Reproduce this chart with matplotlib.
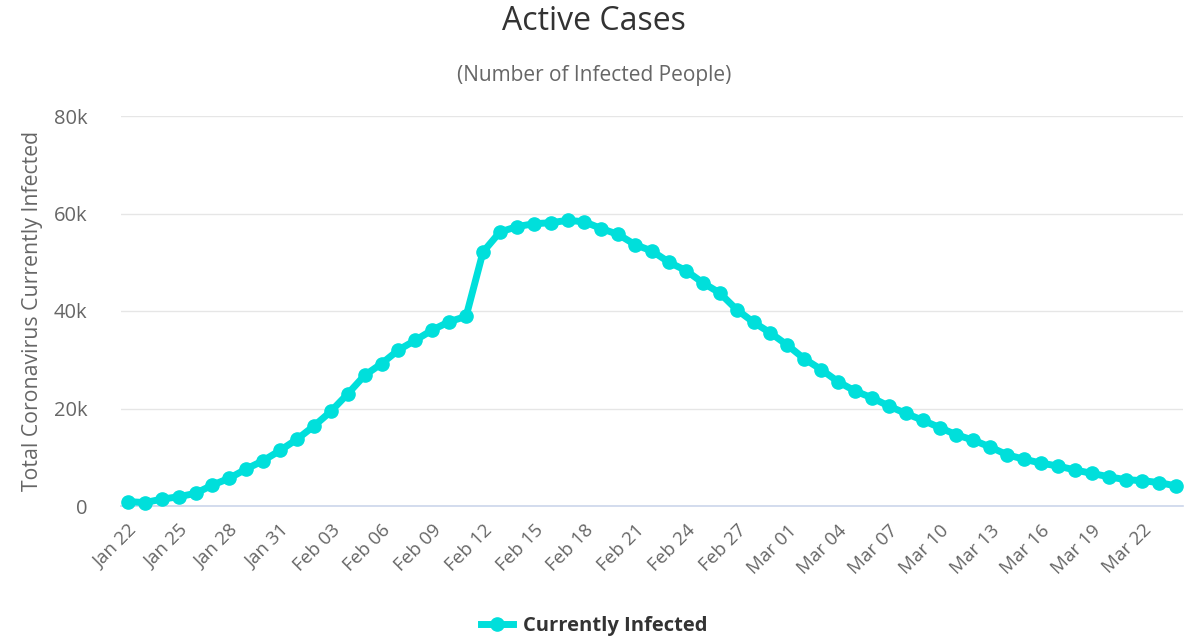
import matplotlib
matplotlib.use("Agg")
import matplotlib.pyplot as plt
import numpy as np
import datetime as dt

start_date = "2020-01-22"
active_k = [0.9, 0.7, 1.4, 1.9, 2.6, 4.3, 5.7, 7.6, 9.3, 11.4,
            13.7, 16.4, 19.4, 23.0, 26.8, 29.2, 32.0, 34.0, 36.1, 37.8,
            38.9, 52.1, 56.2, 57.3, 57.9, 58.1, 58.6, 58.3, 56.9, 55.7,
            53.6, 52.3, 50.0, 48.3, 45.8, 43.7, 40.3, 37.7, 35.5, 33.0,
            30.2, 28.0, 25.5, 23.6, 22.2, 20.5, 19.0, 17.6, 16.1, 14.6,
            13.5, 12.1, 10.5, 9.6, 8.8, 8.2, 7.4, 6.7, 6.0, 5.4,
            5.2, 4.8, 4.1]
active = [v * 1000 for v in active_k]
yticks = [0, 20000, 40000, 60000, 80000]
ytick_labels = ["0", "20k", "40k", "60k", "80k"]
title = "Active Cases"
subtitle = "(Number of Infected People)"
ylabel = "Total Coronavirus Currently Infected"
series_name = "Currently Infected"

d0 = dt.date.fromisoformat(start_date)
dates = [d0 + dt.timedelta(days=i) for i in range(len(active))]
labels = [d.strftime("%b %d") for d in dates]
x = np.arange(len(active))

plt.rcParams['font.family'] = ['Open Sans', 'DejaVu Sans']

fig = plt.figure(figsize=(11.88, 6.39), dpi=100)
ax = fig.add_axes([121/1188, 133/639, (1183-121)/1188, (506-116)/639])

color = '#00dfdb'
ax.plot(x, active, color=color, lw=5, marker='o', ms=9.5, zorder=3,
        label=series_name, clip_on=False)

ax.set_ylim(0, 80000)
ax.set_xlim(-0.41, 62.4)
ax.set_yticks(yticks)
ax.set_yticklabels(ytick_labels)
ax.grid(axis='y', color='#e6e6e6', lw=1)
ax.set_axisbelow(True)
for s in ['top', 'right', 'left']:
    ax.spines[s].set_visible(False)
ax.spines['bottom'].set_color('#ccd6eb')
ax.spines['bottom'].set_linewidth(1.2)

tick_idx = x[::3]
ax.set_xticks(tick_idx)
ax.set_xticklabels([labels[i] for i in tick_idx], rotation=45, ha='right',
                   rotation_mode='anchor', fontsize=13.5, color='#666666')
ax.tick_params(axis='x', length=0, pad=11)
ax.tick_params(axis='y', length=0, pad=24, labelsize=14.5, labelcolor='#666666')

ax.set_ylabel(ylabel, fontsize=15.3, color='#666666', labelpad=8)

fig.text(0.5, 1 - 22/639, title, ha='center', va='center', fontsize=23, color='#333333')
fig.text(0.5, 1 - 75/639, subtitle, ha='center', va='center', fontsize=15, color='#666666')

leg = fig.legend(loc='center', bbox_to_anchor=(0.5, 1 - 626/639), frameon=False,
                 prop={'weight': 'bold', 'size': 14.5}, handlelength=1.6,
                 handletextpad=0.5)
for t in leg.get_texts():
    t.set_color('#333333')

fig.savefig('out.png', dpi=100)
